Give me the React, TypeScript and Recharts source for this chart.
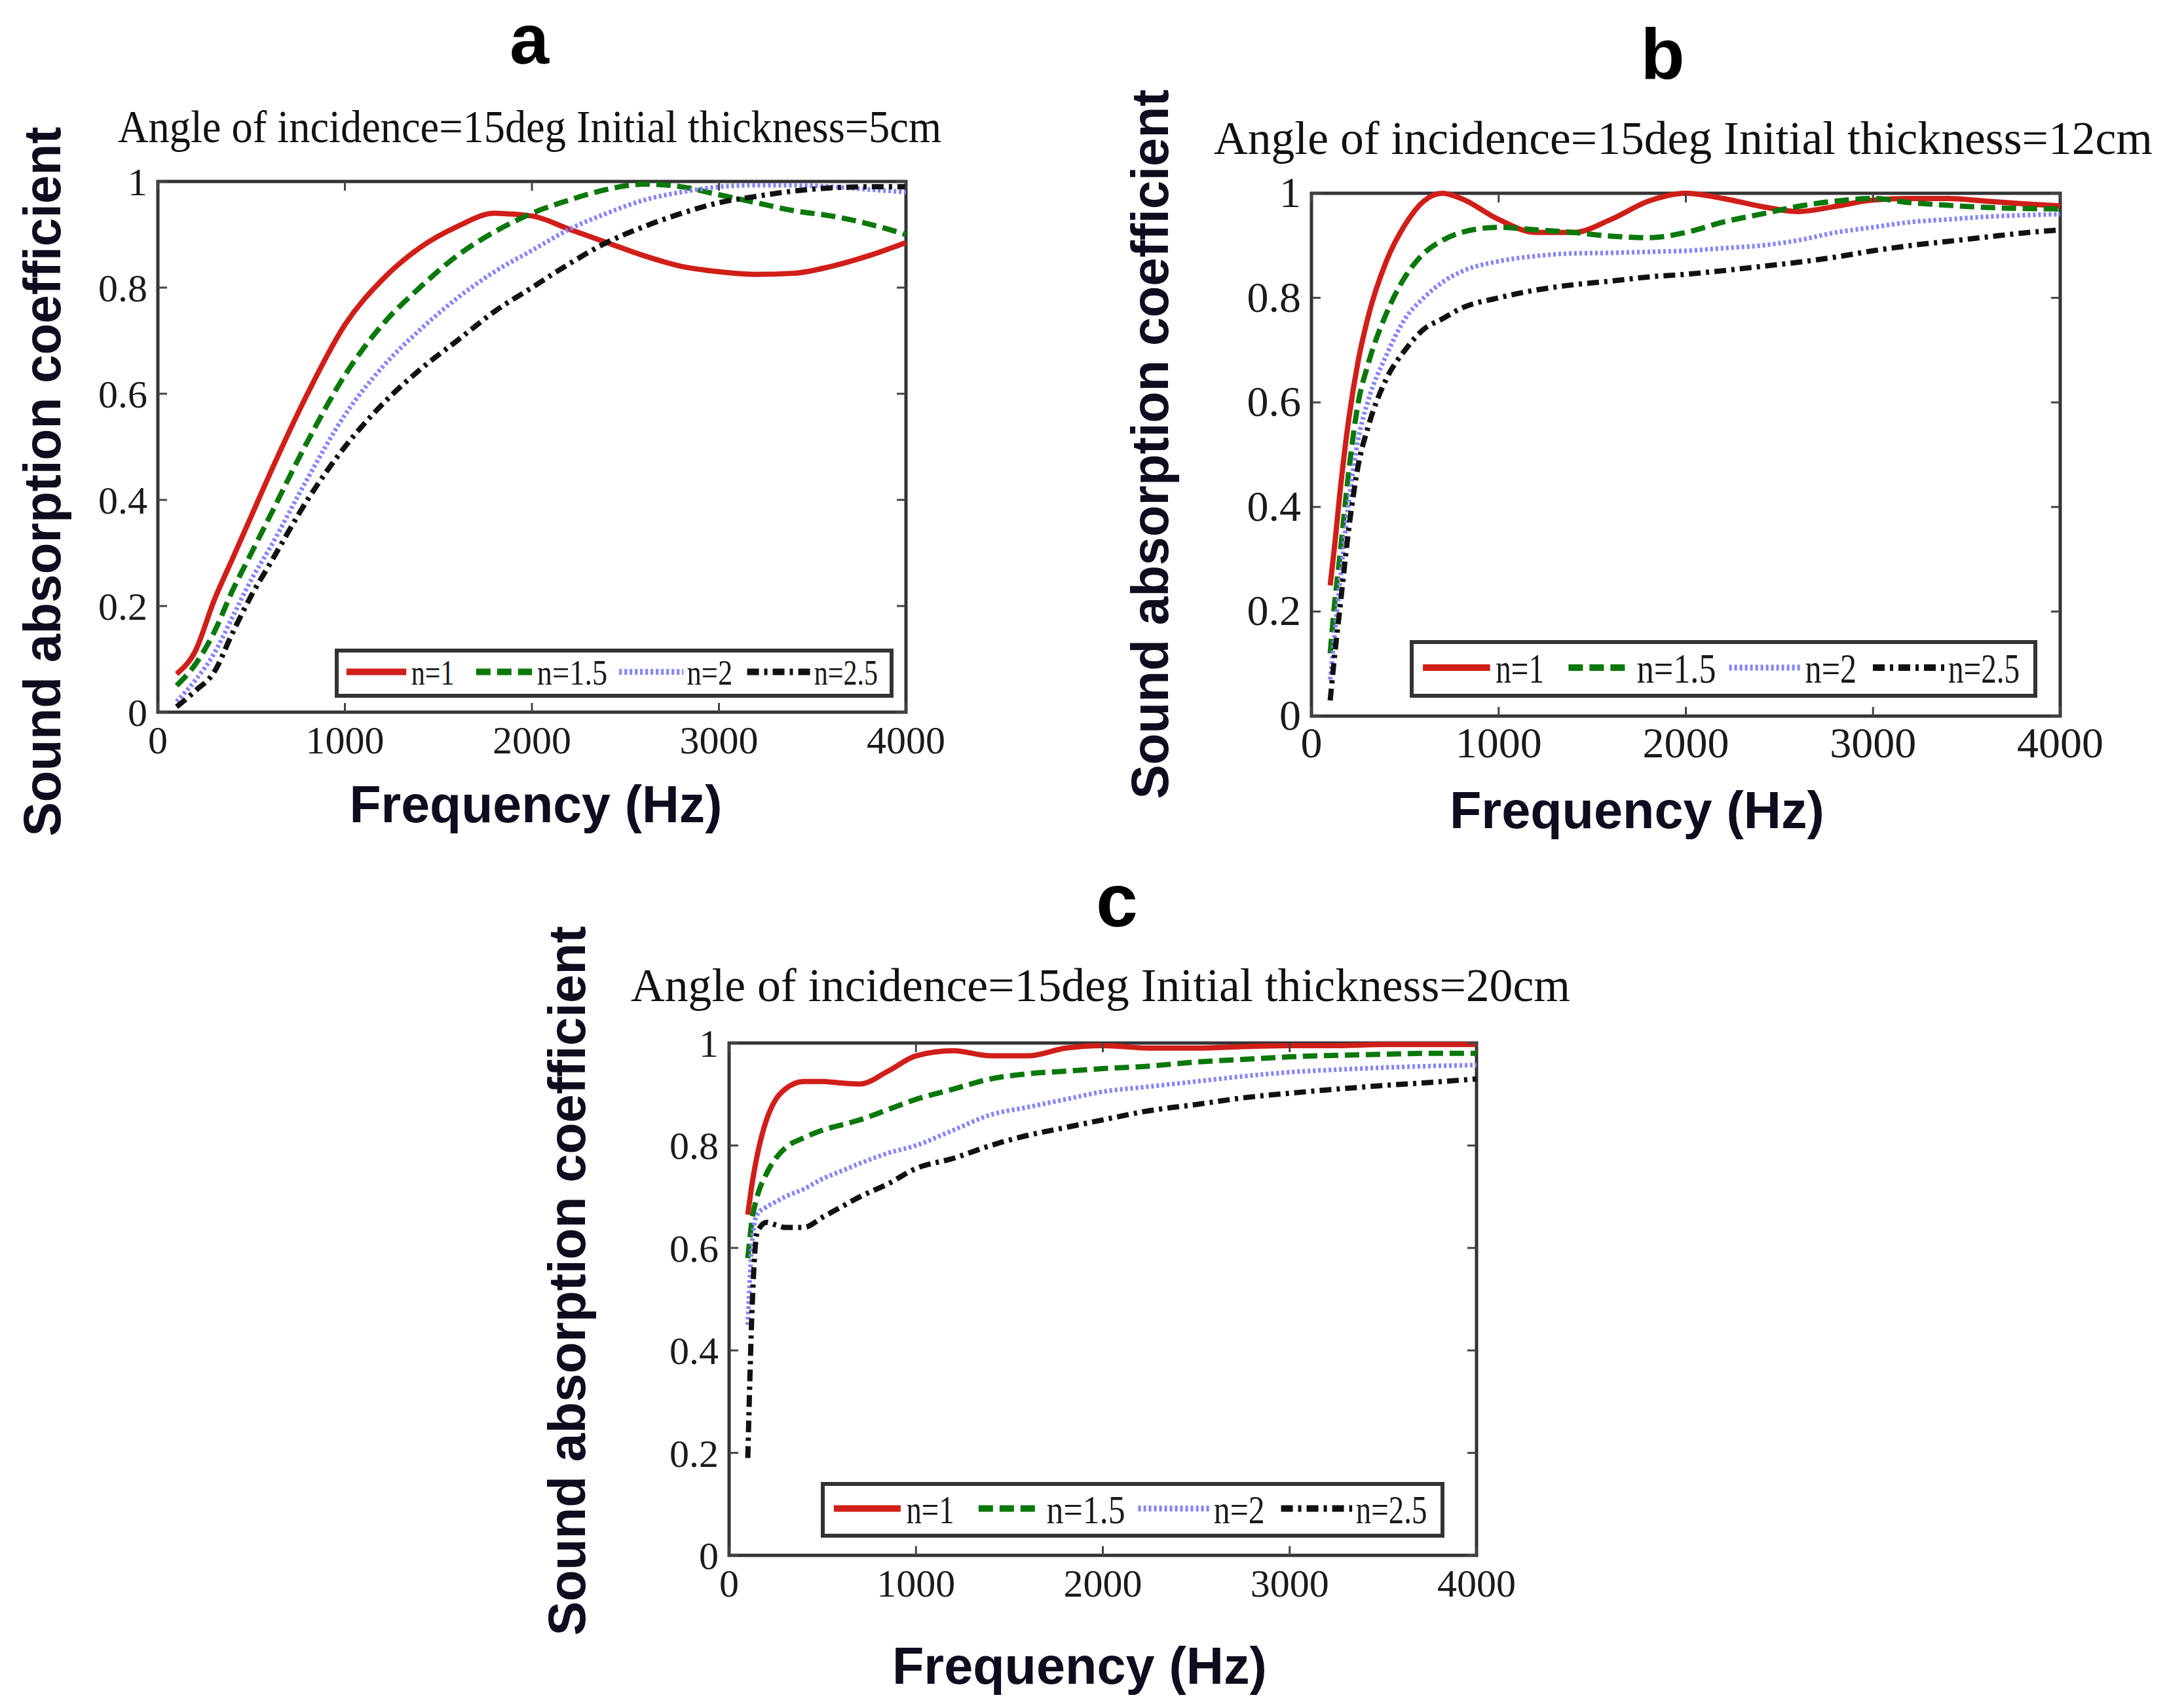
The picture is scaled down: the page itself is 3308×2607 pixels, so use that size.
import { LineChart, Line, XAxis, YAxis, Legend, ReferenceArea } from 'recharts';

// ---- data ----
const FREQ_A = [100, 200, 300, 400, 500, 600, 800, 1000, 1200, 1400, 1600, 1800, 2000, 2200, 2400, 2600, 2800, 3000, 3200, 3400, 3600, 3800, 4000];
const A_N1 = [0.072, 0.115, 0.21, 0.29, 0.37, 0.45, 0.6, 0.73, 0.815, 0.875, 0.915, 0.94, 0.935, 0.91, 0.885, 0.86, 0.84, 0.83, 0.825, 0.827, 0.84, 0.86, 0.885];
const A_N15 = [0.05, 0.09, 0.15, 0.23, 0.3, 0.37, 0.51, 0.635, 0.73, 0.8, 0.86, 0.905, 0.94, 0.965, 0.985, 0.995, 0.99, 0.975, 0.96, 0.945, 0.935, 0.92, 0.9];
const A_N2 = [0.02, 0.06, 0.11, 0.18, 0.25, 0.31, 0.44, 0.56, 0.65, 0.72, 0.78, 0.83, 0.87, 0.91, 0.94, 0.965, 0.98, 0.99, 0.993, 0.993, 0.99, 0.985, 0.98];
const A_N25 = [0.01, 0.04, 0.075, 0.15, 0.22, 0.28, 0.4, 0.5, 0.58, 0.645, 0.7, 0.755, 0.8, 0.845, 0.885, 0.915, 0.94, 0.96, 0.972, 0.982, 0.988, 0.99, 0.99];

const FREQ_B = [100, 125, 150, 200, 250, 300, 400, 500, 600, 700, 800, 1000, 1200, 1400, 1600, 1800, 2000, 2200, 2400, 2600, 2800, 3000, 3200, 3400, 3600, 3800, 4000];
const B_N1 = [0.25, 0.33, 0.42, 0.57, 0.68, 0.76, 0.87, 0.94, 0.985, 1.0, 0.99, 0.95, 0.925, 0.925, 0.95, 0.985, 1.0, 0.99, 0.975, 0.965, 0.975, 0.987, 0.99, 0.99, 0.985, 0.98, 0.976];
const B_N15 = [0.12, 0.22, 0.3, 0.47, 0.6, 0.67, 0.77, 0.84, 0.885, 0.91, 0.925, 0.935, 0.93, 0.925, 0.918, 0.915, 0.925, 0.945, 0.96, 0.975, 0.985, 0.99, 0.982, 0.977, 0.973, 0.971, 0.97];
const B_N2 = [0.07, 0.16, 0.25, 0.41, 0.53, 0.6, 0.69, 0.76, 0.8, 0.83, 0.85, 0.87, 0.88, 0.885, 0.886, 0.888, 0.89, 0.895, 0.9, 0.91, 0.925, 0.935, 0.945, 0.95, 0.955, 0.958, 0.96];
const B_N25 = [0.03, 0.12, 0.2, 0.36, 0.48, 0.55, 0.645, 0.7, 0.74, 0.76, 0.78, 0.8, 0.815, 0.825, 0.832, 0.84, 0.845, 0.852, 0.86, 0.868, 0.878, 0.89, 0.9, 0.908, 0.916, 0.924, 0.93];

const FREQ_C = [100, 125, 150, 200, 250, 300, 400, 500, 600, 700, 850, 1000, 1200, 1400, 1600, 1800, 2000, 2250, 2500, 2750, 3000, 3250, 3500, 3750, 4000];
const C_N1 = [0.665, 0.73, 0.78, 0.85, 0.89, 0.91, 0.925, 0.925, 0.922, 0.92, 0.945, 0.975, 0.985, 0.975, 0.975, 0.99, 0.995, 0.99, 0.99, 0.993, 0.995, 0.995, 0.997, 0.997, 0.997];
const C_N15 = [0.58, 0.66, 0.7, 0.745, 0.775, 0.795, 0.815, 0.83, 0.84, 0.85, 0.87, 0.89, 0.91, 0.93, 0.94, 0.945, 0.95, 0.955, 0.963, 0.968, 0.973, 0.976, 0.978, 0.98, 0.98];
const C_N2 = [0.45, 0.62, 0.665, 0.68, 0.69, 0.7, 0.715, 0.735, 0.75, 0.765, 0.785, 0.8, 0.83, 0.86, 0.875, 0.89, 0.905, 0.915, 0.925, 0.935, 0.943, 0.948, 0.952, 0.955, 0.957];
const C_N25 = [0.19, 0.5, 0.63, 0.65, 0.645, 0.64, 0.64, 0.66, 0.68, 0.7, 0.725, 0.755, 0.775, 0.8, 0.82, 0.835, 0.85, 0.868, 0.88, 0.893, 0.902, 0.91, 0.917, 0.923, 0.93];

const SERIES_KEYS = ['n1', 'n15', 'n2', 'n25'];
const SERIES_NAMES = ['n=1', 'n=1.5', 'n=2', 'n=2.5'];
const SERIES_COLORS = ['#d01e18', '#0b780b', '#8583ff', '#111111'];
const SERIES_DASH = ['', '22 10', '4 4', '18 8 5 8'];
const SERIES_WIDTH = [8, 8, 7, 8];

const X_TICKS = [0, 1000, 2000, 3000, 4000];
const Y_TICKS = [0, 0.2, 0.4, 0.6, 0.8, 1];
const Y_TICK_LABELS = ['0', '0.2', '0.4', '0.6', '0.8', '1'];

const TITLES = [
  'Angle of incidence=15deg Initial thickness=5cm',
  'Angle of incidence=15deg Initial thickness=12cm',
  'Angle of incidence=15deg Initial thickness=20cm',
];
const LETTERS = ['a', 'b', 'c'];
const X_LABEL = 'Frequency (Hz)';
const Y_LABEL = 'Sound absorption coefficient';

// ---- layout ----
const SERIF = "'Liberation Serif', 'Times New Roman', serif";
const SANS = "'Liberation Sans', Arial, sans-serif";
const LABEL_COLOR = '#0d0d1f';

const ML = 170;
const MT = 60;
const MR = 100;
const MB = 100;
// axes get 1px of room (an axis of zero size is not drawn); margins are reduced to compensate
const AXIS_PX = 1;
// blank room around the legend box inside its own svg
const LEGEND_PAD = 12;

// legend item layout as fractions of the legend box width: [line start, line end, text start, text end]
const LEGEND_SLOTS = [
  [0.021, 0.128, 0.137, 0.214],
  [0.253, 0.353, 0.362, 0.488],
  [0.509, 0.624, 0.63, 0.712],
  [0.738, 0.852, 0.858, 0.972],
];

const PANELS = [
  {
    freq: FREQ_A,
    series: [A_N1, A_N15, A_N2, A_N25],
    plot: { x: 241, y: 277, w: 1142, h: 810 },
    legend: { x: 511, y: 990, w: 853, h: 75 },
    tickFont: 60,
    title: { x: 180, w: 1257, base: 217, size: 70 },
    letter: { x: 808, base: 97, size: 108 },
    yLabel: { x: 92, cy: 735 },
    xLabel: { cx: 818, w: 569, base: 1255 },
  },
  {
    freq: FREQ_B,
    series: [B_N1, B_N15, B_N2, B_N25],
    plot: { x: 2002, y: 295, w: 1143, h: 798 },
    legend: { x: 2152, y: 977, w: 958, h: 88 },
    tickFont: 66,
    title: { x: 1853, w: 1433, base: 235, size: 72 },
    letter: { x: 2538, base: 120, size: 110 },
    yLabel: { x: 1783, cy: 678 },
    xLabel: { cx: 2499, w: 572, base: 1264 },
  },
  {
    freq: FREQ_C,
    series: [C_N1, C_N15, C_N2, C_N25],
    plot: { x: 1113, y: 1592, w: 1141, h: 782 },
    legend: { x: 1253, y: 2262, w: 952, h: 85 },
    tickFont: 60,
    title: { x: 963, w: 1434, base: 1528, size: 72 },
    letter: { x: 1705, base: 1414, size: 115 },
    yLabel: { x: 893, cy: 1955 },
    xLabel: { cx: 1648, w: 572, base: 2570 },
  },
];

function makeXTick(top: number, bottom: number, size: number) {
  return (props: any) => {
    const { x, payload } = props;
    return (
      <g>
        <line x1={x} x2={x} y1={bottom} y2={bottom - 14} stroke="#444" strokeWidth={3} />
        <line x1={x} x2={x} y1={top} y2={top + 14} stroke="#444" strokeWidth={3} />
        <text x={x} y={bottom + 63} textAnchor="middle" fontFamily={SERIF} fontSize={size} fill="#1a1a1a">
          {payload.value}
        </text>
      </g>
    );
  };
}

function makeYTick(left: number, right: number, size: number) {
  return (props: any) => {
    const { y, payload } = props;
    const label = Y_TICK_LABELS[Y_TICKS.indexOf(payload.value)] ?? String(payload.value);
    return (
      <g>
        <line x1={left} x2={left + 14} y1={y} y2={y} stroke="#444" strokeWidth={3} />
        <line x1={right} x2={right - 14} y1={y} y2={y} stroke="#444" strokeWidth={3} />
        <text x={left - 16} y={y + 21} textAnchor="end" fontFamily={SERIF} fontSize={size} fill="#1a1a1a">
          {label}
        </text>
      </g>
    );
  };
}

function makeLegend(w: number, h: number) {
  const font = h * 0.72;
  const cy = LEGEND_PAD + h / 2;
  const x0 = LEGEND_PAD;
  return () => (
    <svg width={w + 2 * LEGEND_PAD} height={h + 2 * LEGEND_PAD} style={{ display: 'block' }}>
      <rect x={x0 + 3} y={LEGEND_PAD + 3} width={w - 6} height={h - 6} fill="#fff" stroke="#333" strokeWidth={6} />
      {SERIES_NAMES.map((name, i) => {
        const [l0, l1, t0, t1] = LEGEND_SLOTS[i];
        return (
          <g key={name}>
            <line
              x1={x0 + l0 * w}
              x2={x0 + l1 * w}
              y1={cy - 2}
              y2={cy - 2}
              stroke={SERIES_COLORS[i]}
              strokeWidth={SERIES_WIDTH[i] + 2}
              strokeDasharray={SERIES_DASH[i] || undefined}
            />
            <text
              x={x0 + t0 * w}
              y={cy + font * 0.33}
              fontFamily={SERIF}
              fontSize={font}
              fill="#1a1a1a"
              textLength={(t1 - t0) * w}
              lengthAdjust="spacingAndGlyphs"
            >
              {name}
            </text>
          </g>
        );
      })}
    </svg>
  );
}

function Panel({ index }: { index: number }) {
  const p = PANELS[index];
  const width = p.plot.w + ML + MR;
  const height = p.plot.h + MT + MB;
  const left = p.plot.x - ML;
  const top = p.plot.y - MT;
  const data = p.freq.map((f, i) => {
    const row: Record<string, number> = { f };
    SERIES_KEYS.forEach((k, s) => {
      row[k] = p.series[s][i];
    });
    return row;
  });
  const plotTop = MT;
  const plotBottom = MT + p.plot.h;
  const plotLeft = ML;
  const plotRight = ML + p.plot.w;

  return (
    <div style={{ position: 'absolute', left, top, width, height }}>
      <LineChart
        width={width}
        height={height}
        data={data}
        margin={{ top: MT, right: MR, bottom: MB - AXIS_PX, left: ML - AXIS_PX }}
      >
        <XAxis
          dataKey="f"
          type="number"
          domain={[0, 4000]}
          ticks={X_TICKS}
          height={AXIS_PX}
          axisLine={false}
          tickLine={false}
          tick={makeXTick(plotTop, plotBottom, p.tickFont)}
          interval={0}
        />
        <YAxis
          type="number"
          domain={[0, 1]}
          ticks={Y_TICKS}
          width={AXIS_PX}
          axisLine={false}
          tickLine={false}
          tick={makeYTick(plotLeft, plotRight, p.tickFont)}
          interval={0}
        />
        <ReferenceArea x1={0} x2={4000} y1={0} y2={1} fill="none" stroke="#333" strokeWidth={5} />
        {SERIES_KEYS.map((k, i) => (
          <Line
            key={k}
            dataKey={k}
            name={SERIES_NAMES[i]}
            type="monotone"
            stroke={SERIES_COLORS[i]}
            strokeWidth={SERIES_WIDTH[i]}
            strokeDasharray={SERIES_DASH[i] || undefined}
            dot={false}
            activeDot={false}
            isAnimationActive={false}
          />
        ))}
        <Legend
          layout="vertical"
          align="center"
          verticalAlign="middle"
          content={makeLegend(p.legend.w, p.legend.h)}
          wrapperStyle={{
            left: p.legend.x - left - LEGEND_PAD,
            top: p.legend.y - top - LEGEND_PAD,
            width: p.legend.w + 2 * LEGEND_PAD,
            height: p.legend.h + 2 * LEGEND_PAD,
          }}
        />
      </LineChart>
    </div>
  );
}

export default function App() {
  return (
    <div style={{ position: 'absolute', left: 0, top: 0, width: 3308, height: 2607, background: '#fff' }}>
      {PANELS.map((_, i) => (
        <Panel key={i} index={i} />
      ))}
      <svg width={3308} height={2607} style={{ position: 'absolute', left: 0, top: 0, pointerEvents: 'none' }}>
        {PANELS.map((p, i) => (
          <g key={i}>
            <text
              x={p.letter.x}
              y={p.letter.base}
              textAnchor="middle"
              fontFamily={SANS}
              fontWeight="bold"
              fontSize={p.letter.size}
              fill="#000"
            >
              {LETTERS[i]}
            </text>
            <text
              x={p.title.x}
              y={p.title.base}
              fontFamily={SERIF}
              fontSize={p.title.size}
              fill="#111"
              textLength={p.title.w}
              lengthAdjust="spacingAndGlyphs"
            >
              {TITLES[i]}
            </text>
            <text
              transform={`translate(${p.yLabel.x},${p.yLabel.cy}) rotate(-90)`}
              textAnchor="middle"
              fontFamily={SANS}
              fontWeight="bold"
              fontSize={80}
              fill={LABEL_COLOR}
              textLength={1083}
              lengthAdjust="spacingAndGlyphs"
            >
              {Y_LABEL}
            </text>
            <text
              x={p.xLabel.cx - p.xLabel.w / 2}
              y={p.xLabel.base}
              fontFamily={SANS}
              fontWeight="bold"
              fontSize={80}
              fill={LABEL_COLOR}
              textLength={p.xLabel.w}
              lengthAdjust="spacingAndGlyphs"
            >
              {X_LABEL}
            </text>
          </g>
        ))}
      </svg>
    </div>
  );
}
